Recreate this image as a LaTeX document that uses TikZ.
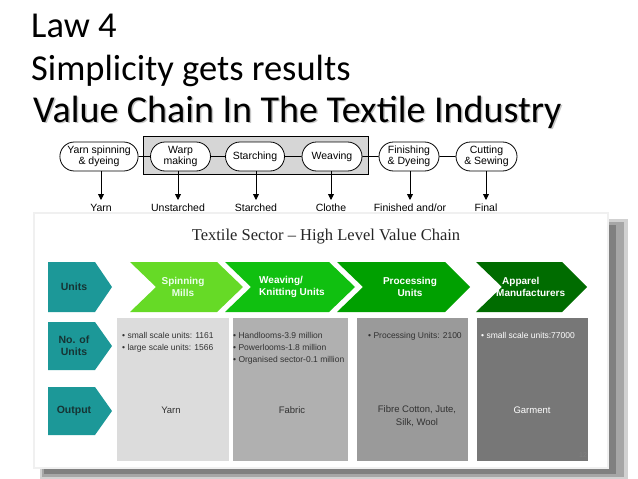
\documentclass[tikz,border=0pt]{standalone}
\usepackage{fontspec}
\setmainfont{Carlito}
\newfontfamily\arialf{Liberation Sans}
\newfontfamily\seriff[Ligatures=TeX]{Liberation Serif}
\newfontfamily\tahf{Liberation Sans}
\usetikzlibrary{arrows.meta,shapes.misc}
\definecolor{tealc}{RGB}{28,152,152}
\definecolor{tealtxt}{RGB}{22,52,52}
\definecolor{gA}{RGB}{102,218,38}
\definecolor{gB}{RGB}{16,192,16}
\definecolor{gC}{RGB}{0,160,0}
\definecolor{gD}{RGB}{0,108,0}
\definecolor{boxA}{RGB}{220,220,220}
\definecolor{boxB}{RGB}{176,176,176}
\definecolor{boxC}{RGB}{154,154,154}
\definecolor{boxD}{RGB}{119,119,119}
\definecolor{txtD}{RGB}{50,50,50}
\tikzset{
  ttl/.style={anchor=base west,inner sep=0pt,font=\fontsize{36.5}{40}\selectfont},
  stad/.style={rounded rectangle,draw=black,line width=0.8pt,fill=white,minimum height=29pt,inner xsep=3pt,inner ysep=1pt,align=center,font=\arialf\fontsize{10.5}{11}\selectfont},
  outlbl/.style={font=\arialf\fontsize{10.5}{11}\selectfont,inner sep=0pt,anchor=base},
  arr/.style={-{Triangle[length=6pt,width=6pt]},line width=0.9pt},
  lnk/.style={line width=0.8pt},
  chevtxt/.style={font=\tahf\bfseries\fontsize{10}{12}\selectfont,inner sep=0pt,align=center},
  rowtxt/.style={font=\tahf\bfseries\fontsize{10.5}{12}\selectfont,text=tealtxt,inner sep=0pt,align=center},
  boxtxt/.style={font=\tahf\fontsize{8.5}{12}\selectfont,inner sep=0pt,align=left,anchor=north west},
  outtxt/.style={font=\tahf\fontsize{9.5}{13}\selectfont,inner sep=0pt,align=center,text=txtD},
}
\begin{document}
\begin{tikzpicture}[x=1pt,y=-1pt]
\useasboundingbox (0,0) rectangle (638,479);
\fill[white] (0,0) rectangle (638,479);
% titles
\node[ttl] (t1) at (31,37) {Law 4};
\node[ttl] (t2) at (31,80) {Simplicity gets results};
\node[ttl,text=black!22,font=\fontsize{38}{42}\selectfont] (t3s) at (34.5,123.5) {Value Chain In The Textile Industry};
\node[ttl,font=\fontsize{38}{42}\selectfont] (t3) at (33,122) {Value Chain In The Textile Industry};
% upper flow
\fill[black!16] (143,136) rectangle (368,174);
\draw[line width=1pt] (143,136) rectangle (368,174);
\node[stad,minimum width=78pt] (n1) at (99,156.5) {Yarn spinning\\\& dyeing};
\node[stad,minimum width=66pt] (n2) at (180.5,156.5) {Warp\\making};
\node[stad,minimum width=65pt] (n3) at (255,156.5) {Starching};
\node[stad,minimum width=66pt] (n4) at (332,156.5) {Weaving};
\node[stad,minimum width=66pt] (n5) at (409,156.5) {Finishing\\\& Dyeing};
\node[stad,minimum width=67pt] (n6) at (486.5,156.5) {Cutting\\\& Sewing};
\draw[lnk] (n1) -- (n2);
\draw[lnk] (n2) -- (n3);
\draw[lnk] (n3) -- (n4);
\draw[lnk] (n4) -- (n5);
\draw[lnk] (n5) -- (n6);
\node[outlbl] (o1) at (101,211) {Yarn};
\node[outlbl] (o2) at (178,211) {Unstarched};
\node[outlbl] (o3) at (256,211) {Starched};
\node[outlbl] (o4) at (331,211) {Clothe};
\node[outlbl] (o5) at (410,211) {Finished and/or};
\node[outlbl] (o6) at (486,211) {Final};
\coordinate (a1) at (101,200);
\coordinate (a2) at (178,200);
\coordinate (a3) at (256,200);
\coordinate (a4) at (331,200);
\coordinate (a5) at (410,200);
\coordinate (a6) at (486,200);
\draw[arr] (n1.south -| a1) -- (a1);
\draw[arr] (n2.south -| a2) -- (a2);
\draw[arr] (n3.south -| a3) -- (a3);
\draw[arr] (n4.south -| a4) -- (a4);
\draw[arr] (n5.south -| a5) -- (a5);
\draw[arr] (n6.south -| a6) -- (a6);
% panel shadow
\fill[black!18] (40,219) rectangle (628,479);
\fill[black!35] (42,222) rectangle (624,477);
\fill[black!50] (44,225) rectangle (616,474);
\fill[black!6] (33,212) rectangle (609,469);
\fill[white] (35,214) rectangle (607,467);
% panel title
\node[font=\seriff\fontsize{16.5}{18}\selectfont,text=black!85,inner sep=0pt] (ptitle) at (326,237) {Textile Sector – High Level Value Chain};
% teal row headers
\fill[tealc] (48,262) -- (95,262) -- (112,287) -- (95,312) -- (48,312) -- cycle;
\fill[tealc] (48,322) -- (95,322) -- (112,346) -- (95,370) -- (48,370) -- cycle;
\fill[tealc] (48,387) -- (95,387) -- (112,411) -- (95,435) -- (48,435) -- cycle;
\node[rowtxt] (r1) at (74,287) {Units};
\node[rowtxt] (r2) at (74,346) {No. of\\Units};
\node[rowtxt] (r3) at (74,411) {Output};
% chevrons
\fill[gA] (130,262) -- (217,262) -- (243,287) -- (217,312) -- (130,312) -- (156,287) -- cycle;
\fill[gB] (225,262) -- (329,262) -- (355,287) -- (329,312) -- (225,312) -- (251,287) -- cycle;
\fill[gC] (337,262) -- (445,262) -- (470,287) -- (445,312) -- (337,312) -- (363,287) -- cycle;
\fill[gD] (476,262) -- (562,262) -- (587,287) -- (562,312) -- (476,312) -- (502,287) -- cycle;
\node[chevtxt,text=green!8!white] (c1) at (183,287) {Spinning\\Mills};
\node[chevtxt,text=white,align=left,anchor=west] (c2) at (259,287) {Weaving/\\Knitting Units};
\node[chevtxt,text=white] (c3) at (410,287) {Processing\\Units};
\node[chevtxt,text=white,align=left,anchor=west] (c4) at (496,287) {\hspace*{6pt}Apparel\\Manufacturers};
% grey columns
\fill[boxA] (117,318) rectangle (229,461);
\fill[boxB] (233,318) rectangle (348,461);
\fill[boxC] (357,318) rectangle (468,461);
\fill[boxD] (477,318) rectangle (588,461);
\node[boxtxt,text=txtD] (b1) at (122,332) {• small scale units: 1161\\• large scale units: 1566};
\node[boxtxt,text=txtD] (b2) at (233,332) {• Handlooms-3.9 million\\• Powerlooms-1.8 million\\• Organised sector-0.1 million};
\node[boxtxt,text=txtD] (b3) at (368,332) {• Processing Units: 2100};
\node[boxtxt,text=white] (b4) at (481,332) {• small scale units:77000};
\node[outtxt] (y1) at (171,410) {Yarn};
\node[outtxt] (y2) at (292,410) {Fabric};
\node[outtxt] (y3) at (417,416) {Fibre Cotton, Jute,\\Silk, Wool};
\node[outtxt,text=white] (y4) at (532,410) {Garment};
\node[font=\tahf\fontsize{7}{8}\selectfont,text=black!50,inner sep=0pt] (pg) at (583,455) {12};
\end{tikzpicture}
\end{document}
